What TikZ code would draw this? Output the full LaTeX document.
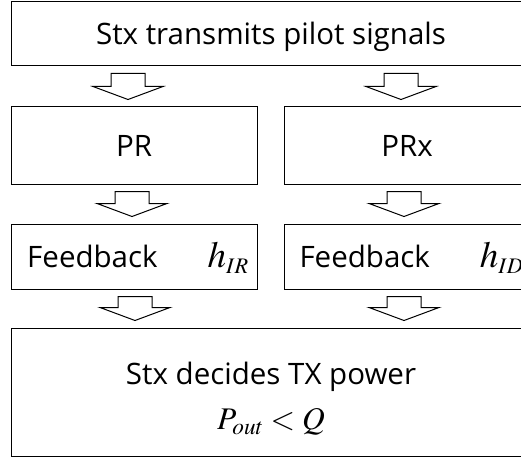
\documentclass[tikz,border=0pt]{standalone}
\usepackage{mathptmx}
\usepackage[no-math]{fontspec}
\setmainfont{Open Sans}
\usetikzlibrary{positioning, calc}

\begin{document}
\begin{tikzpicture}[x=1pt, y=1pt,
  box/.style={draw, line width=1pt, minimum width=246pt, inner sep=0pt, text height=22pt, text depth=0pt, font=\fontsize{29.5}{45}\selectfont},
  wide/.style={box, minimum width=520pt},
  blockarrow/.style={draw, line width=1pt, fill=white, line join=miter}]
  \useasboundingbox (0,0) rectangle (521,456);
  \node[wide, minimum height=64pt] (top) at (271,422) {Stx transmits pilot signals};
  \node[box, minimum height=77pt, below right=40pt and 0pt of top.south west] (pr) {PR};
  \node[box, minimum height=77pt, right=26pt of pr] (prx) {PRx};
  \node[box, minimum height=65pt, below=39pt of pr] (fbl) {\hspace*{8pt}Feedback\hspace{50pt}{\fontsize{37}{40}\selectfont$h_{\scriptscriptstyle IR}$}};
  \node[box, minimum height=65pt, right=26pt of fbl] (fbr) {\hspace*{9pt}Feedback\hspace{50pt}{\fontsize{37}{40}\selectfont$h_{\scriptscriptstyle ID}$}};
  \node[wide, minimum height=128.5pt, below right=38pt and 0pt of fbl.south west, align=center, text height=76pt, text depth=1.5pt] (bot) {Stx decides TX power\\{\fontsize{31.5}{45}\selectfont$P_{\scriptstyle out}<Q$}};
  % hollow arrows between the boxes
  \foreach \a/\b/\c/\d in {top/pr/pr/-6, top/prx/prx/-6, pr/fbl/pr/-2, prx/fbr/prx/-3, fbl/bot/fbl/1, fbr/bot/fbr/-3}
    \draw[blockarrow] let \p1=(\a.south), \p2=(\b.north), \p3=(\c.center) in
      (\x3+\d-17,\y1-7) -- (\x3+\d+17,\y1-7) -- (\x3+\d+17,\y2+20) -- (\x3+\d+35,\y2+20)
      -- (\x3+\d,\y2+7) -- (\x3+\d-35,\y2+20) -- (\x3+\d-17,\y2+20) -- cycle;
\end{tikzpicture}
\end{document}
